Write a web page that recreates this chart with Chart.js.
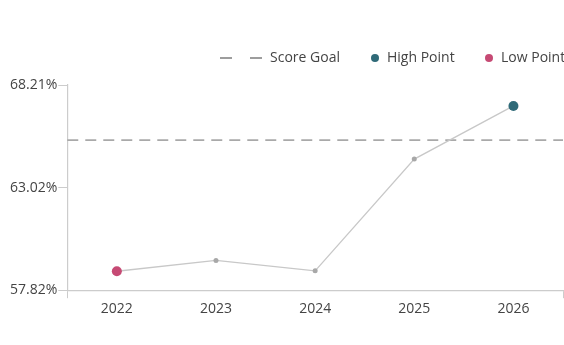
<!DOCTYPE html>
<html>
<head>
<meta charset="utf-8">
<script src="https://cdn.jsdelivr.net/npm/chart.js@4/dist/chart.umd.min.js"></script>
<style>
  html, body { margin: 0; padding: 0; background: #fff; overflow: hidden; }
  #wrap { position: relative; width: 568px; height: 345px; }
</style>
</head>
<body>
<div id="wrap"><canvas id="score-chart"></canvas></div>
<script>
(function () {
    'use strict';

    // --- Data ---

    const years = ['2022', '2023', '2024', '2025', '2026'];
    const scores = [58.78, 59.33, 58.80, 64.46, 67.15];
    const scoreGoal = 65.42;
    const yTicks = [57.82, 63.015, 68.21];
    const legendLabels = ['Score Goal', 'High Point', 'Low Point'];

    const LINE = '#c8c8c8';
    const MID_POINT = '#a8a8a8';
    const HIGH = '#2f6a78';
    const LOW = '#c64a74';
    const GOAL = '#a9a9a9';
    const AXIS = '#cccccc';
    const TEXT = '#444444';
    const FONT = "'Open Sans', sans-serif";

    const hi = scores.indexOf(Math.max(...scores));
    const lo = scores.indexOf(Math.min(...scores));
    const pointColors = scores.map((v, i) => i === hi ? HIGH : (i === lo ? LOW : MID_POINT));
    const pointRadii = scores.map((v, i) => (i === hi || i === lo) ? 5 : 2.5);

    // --- Plugins ---

    // dashed goal line across the full plot width
    const goalLine = {
        id: 'goalLine',
        beforeDatasetsDraw(chart) {
            const { ctx, chartArea, scales } = chart;
            const y = scales.y.getPixelForValue(scoreGoal);
            ctx.save();
            ctx.strokeStyle = GOAL;
            ctx.lineWidth = 1.6;
            ctx.setLineDash([11, 7]);
            ctx.beginPath();
            ctx.moveTo(chartArea.left, y);
            ctx.lineTo(chartArea.right, y);
            ctx.stroke();
            ctx.restore();
        },
    };

    // legend row: dashed goal symbol, then the two marker dots
    const topLegend = {
        id: 'topLegend',
        afterDraw(chart) {
            const ctx = chart.ctx;
            const y = 58;
            ctx.save();
            ctx.font = '14px ' + FONT;
            ctx.fillStyle = TEXT;
            ctx.textBaseline = 'middle';

            ctx.strokeStyle = '#7d7d7d';
            ctx.lineWidth = 1.4;
            ctx.setLineDash([12, 18]);
            ctx.beginPath();
            ctx.moveTo(220, y);
            ctx.lineTo(263, y);
            ctx.stroke();
            ctx.setLineDash([]);
            ctx.fillText(legendLabels[0], 270, y);

            [[HIGH, legendLabels[1], 375], [LOW, legendLabels[2], 489]].forEach(([color, label, x]) => {
                ctx.fillStyle = color;
                ctx.beginPath();
                ctx.arc(x, y, 4, 0, Math.PI * 2);
                ctx.fill();
                ctx.fillStyle = TEXT;
                ctx.fillText(label, x + 12, y);
            });
            ctx.restore();
        },
    };

    // --- Chart ---

    const ctx = document.getElementById('score-chart').getContext('2d');
    new Chart(ctx, {
        type: 'line',
        data: {
            labels: years,
            datasets: [{
                data: scores,
                borderColor: LINE,
                borderWidth: 1.3,
                pointBackgroundColor: pointColors,
                pointBorderColor: pointColors,
                pointRadius: pointRadii,
                pointBorderWidth: 0,
                tension: 0,
            }],
        },
        options: {
            responsive: true,
            maintainAspectRatio: false,
            animation: false,
            layout: { padding: { top: 85, left: 9, right: 0, bottom: 26 } },
            plugins: { legend: { display: false }, tooltip: { enabled: false } },
            scales: {
                x: {
                    offset: true,
                    border: { color: AXIS, width: 1.2 },
                    grid: {
                        offset: true,
                        drawOnChartArea: false,
                        tickLength: 8,
                        color: (c) => (c.type === 'tick' && c.index > 0) ? 'rgba(0,0,0,0)' : AXIS,
                    },
                    ticks: { color: TEXT, font: { family: FONT, size: 14 }, padding: 2 },
                },
                y: {
                    min: yTicks[0],
                    max: yTicks[yTicks.length - 1],
                    afterBuildTicks: (axis) => { axis.ticks = yTicks.map(v => ({ value: v })); },
                    border: { color: AXIS, width: 1.2 },
                    grid: { drawOnChartArea: false, tickLength: 9, color: AXIS },
                    ticks: {
                        color: TEXT,
                        font: { family: FONT, size: 14 },
                        padding: 1,
                        callback: (v) => v.toFixed(2) + '%',
                    },
                },
            },
        },
        plugins: [goalLine, topLegend],
    });
})();
</script>
</body>
</html>
